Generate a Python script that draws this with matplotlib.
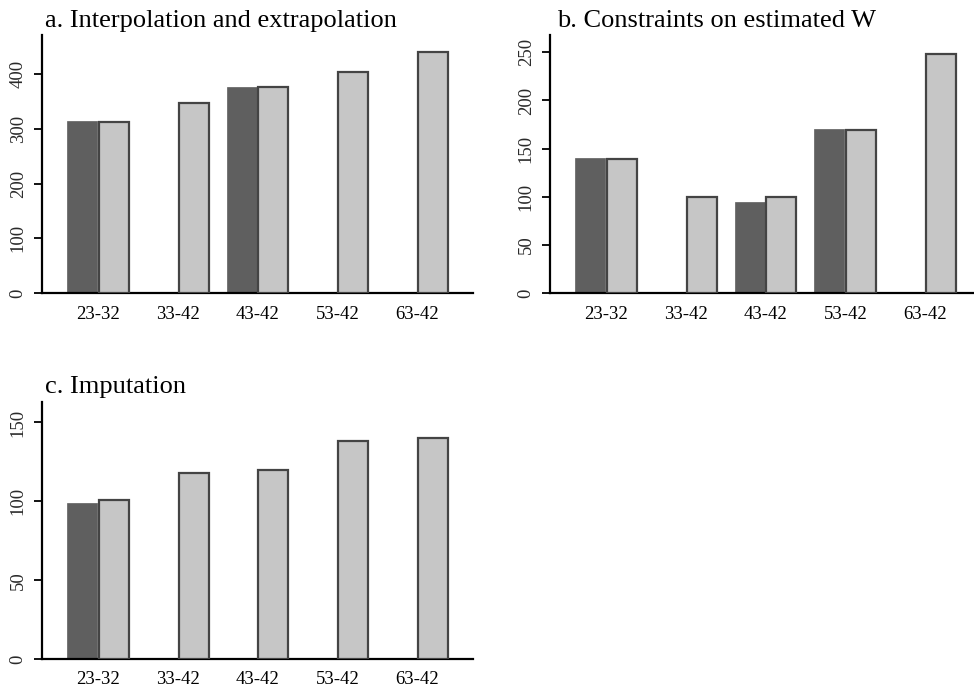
import numpy as np
import matplotlib
matplotlib.use("Agg")
import matplotlib.pyplot as plt

# age groups on the x axis
groups = ["23-32", "33-42", "43-42", "53-42", "63-42"]

# a. interpolation and extrapolation
a_dark = [315, np.nan, 377, np.nan, np.nan]
a_light = [313, 348, 376, 405, 440]

# b. constraints on estimated W
b_dark = [140, np.nan, 95, 170, np.nan]
b_light = [139, 100, 100, 169, 248]

# c. imputation
c_dark = [99, np.nan, np.nan, np.nan, np.nan]
c_light = [101, 118, 120, 138, 140]

plt.rcParams['font.family'] = ['Liberation Serif', 'DejaVu Serif']

W, H = 974, 690
fig = plt.figure(figsize=(W / 100, H / 100), dpi=100)


def px_axes(left, top, right, bottom):
    return fig.add_axes([left / W, 1 - bottom / H, (right - left) / W, (bottom - top) / H])


def draw_panel(ax, dark, light, ymax, yticks):
    x = np.arange(len(groups))
    dark = np.array(dark, dtype=float)
    light = np.array(light, dtype=float)
    bw = 0.375
    m = ~np.isnan(dark)
    ax.bar(x[m] - 0.2, dark[m], width=bw, color='#5f5f5f', edgecolor='#5f5f5f', linewidth=0.5, zorder=2)
    m = ~np.isnan(light)
    ax.bar(x[m] + 0.2, light[m], width=bw, color='#c6c6c6', edgecolor='#444444', linewidth=1.6, zorder=3)

    ax.set_xlim(-0.7, 4.7)
    ax.set_ylim(0, ymax)
    ax.set_xticks(x)
    ax.set_xticklabels(groups, fontsize=13.5)
    ax.set_yticks(yticks)
    ax.set_yticklabels([str(t) for t in yticks], rotation=90, va='center', fontsize=13.5, color='#2a2a2a')
    ax.tick_params(axis='x', length=0, pad=9)
    ax.tick_params(axis='y', length=6, width=1.3, pad=5, direction='out')
    for s in ['top', 'right']:
        ax.spines[s].set_visible(False)
    for s in ['left', 'bottom']:
        ax.spines[s].set_linewidth(1.6)
    ax.patch.set_visible(False)


ax_a = px_axes(42, 35, 473, 293)
draw_panel(ax_a, a_dark, a_light, 472, [0, 100, 200, 300, 400])
fig.text(45 / W, 1 - 27 / H, "a. Interpolation and extrapolation", fontsize=19, va='baseline', ha='left')

ax_b = px_axes(550, 35, 981, 293)
draw_panel(ax_b, b_dark, b_light, 268, [0, 50, 100, 150, 200, 250])
fig.text(557 / W, 1 - 27 / H, "b. Constraints on estimated W", fontsize=19, va='baseline', ha='left')

ax_c = px_axes(42, 402, 473, 659)
draw_panel(ax_c, c_dark, c_light, 163, [0, 50, 100, 150])
fig.text(45 / W, 1 - 393 / H, "c. Imputation", fontsize=19, va='baseline', ha='left')

fig.savefig("out.png", dpi=100)
